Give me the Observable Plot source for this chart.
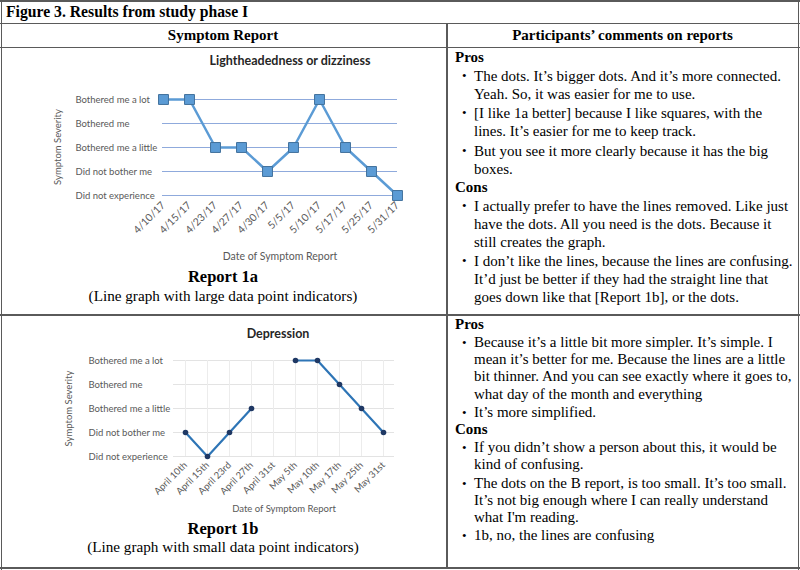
<!DOCTYPE html>
<html><head><meta charset="utf-8">
<script src="https://cdn.jsdelivr.net/npm/d3@7"></script>
<script src="https://cdn.jsdelivr.net/npm/@observablehq/plot@0.6"></script>
<style>
html,body{margin:0;padding:0;background:#fff;}
#page{position:relative;width:800px;height:570px;overflow:hidden;font-family:"Liberation Serif","Times New Roman",serif;color:#000;background:#fff;}
.ln{position:absolute;background:#5a5a5a;}
.t{position:absolute;white-space:nowrap;}
.hd{font-weight:bold;font-size:15px;line-height:18px;}
.cap{position:absolute;left:0;width:446px;text-align:center;font-size:15.2px;line-height:18px;white-space:nowrap;}
.col{position:absolute;left:455px;font-size:15px;line-height:17.1px;white-space:nowrap;}
.col.r1{line-height:18px;}
.col .h{font-weight:bold;}
.col .it{position:relative;padding-left:19px;margin-top:1.2px;}
.col .it::before{content:"•";position:absolute;left:7px;top:0;font-size:13px;}
.chart{position:absolute;left:0;}
.chart svg{overflow:visible;}
</style>
</head><body>
<div id="page">
  <div class="t hd" style="left:6px;top:3px;font-size:15.7px;">Figure 3. Results from study phase I</div>
  <div class="t hd" style="left:0;width:446px;text-align:center;top:26px;">Symptom Report</div>
  <div class="t hd" style="left:447px;width:351px;text-align:center;top:26px;">Participants’ comments on reports</div>

  <div id="c1" class="chart" style="top:47px;"></div>
  <div class="cap" style="top:268px;font-weight:bold;font-size:16.5px;">Report 1a</div>
  <div class="cap" style="top:287px;">(Line graph with large data point indicators)</div>

  <div id="c2" class="chart" style="top:315px;"></div>
  <div class="cap" style="top:520px;font-weight:bold;font-size:16.5px;">Report 1b</div>
  <div class="cap" style="top:538px;">(Line graph with small data point indicators)</div>

  <div class="col r1" style="top:48px;">
    <div class="h">Pros</div>
    <div class="it">The dots. It’s bigger dots. And it’s more connected.<br>Yeah. So, it was easier for me to use.</div>
    <div class="it">[I like 1a better] because I like squares, with the<br>lines. It’s easier for me to keep track.</div>
    <div class="it">But you see it more clearly because it has the big<br>boxes.</div>
    <div class="h">Cons</div>
    <div class="it">I actually prefer to have the lines removed. Like just<br>have the dots. All you need is the dots. Because it<br>still creates the graph.</div>
    <div class="it">I don’t like the lines, because the lines are confusing.<br>It’d just be better if they had the straight line that<br>goes down like that [Report 1b], or the dots.</div>
  </div>

  <div class="col" style="top:316px;">
    <div class="h">Pros</div>
    <div class="it">Because it’s a little bit more simpler. It’s simple. I<br>mean it’s better for me. Because the lines are a little<br>bit thinner. And you can see exactly where it goes to,<br>what day of the month and everything</div>
    <div class="it">It’s more simplified.</div>
    <div class="h">Cons</div>
    <div class="it">If you didn’t show a person about this, it would be<br>kind of confusing.</div>
    <div class="it">The dots on the B report, is too small. It’s too small.<br>It’s not big enough where I can really understand<br>what I'm reading.</div>
    <div class="it">1b, no, the lines are confusing</div>
  </div>

  <!-- table rules -->
  <div class="ln" style="left:0;top:0;width:800px;height:1.5px;"></div>
  <div class="ln" style="left:0;top:22.5px;width:800px;height:1.5px;"></div>
  <div class="ln" style="left:0;top:46.5px;width:800px;height:1.5px;"></div>
  <div class="ln" style="left:0;top:313.5px;width:800px;height:2px;"></div>
  <div class="ln" style="left:0;top:567px;width:800px;height:1.5px;"></div>
  <div class="ln" style="left:0.5px;top:0;width:1.5px;height:570px;"></div>
  <div class="ln" style="left:797.5px;top:0;width:1.5px;height:570px;"></div>
  <div class="ln" style="left:446px;top:23px;width:1.5px;height:546px;"></div>
</div>
<script>
// Severity levels, top to bottom
const levels = ["Bothered me a lot", "Bothered me", "Bothered me a little", "Did not bother me", "Did not experience"];
// Severity code: 0 = Did not experience ... 4 = Bothered me a lot
const levelsAsc = ["Did not experience", "Did not bother me", "Bothered me a little", "Bothered me", "Bothered me a lot"];

// Report 1a: Lightheadedness or dizziness
const dates1a = ["4/10/17", "4/15/17", "4/23/17", "4/27/17", "4/30/17", "5/5/17", "5/10/17", "5/17/17", "5/25/17", "5/31/17"];
const severity1a = [4, 4, 2, 2, 1, 2, 4, 2, 1, 0];

// Report 1b: Depression
const dates1b = ["April 10th", "April 15th", "April 23rd", "April 27th", "April 31st", "May 5th", "May 10th", "May 17th", "May 25th", "May 31st"];
const severity1b = [1, 0, 1, 2, null, 4, 4, 3, 2, 1];

const data1a = dates1a.map((d, i) => ({date: d, level: levelsAsc[severity1a[i]]}));
const data1b = dates1b.map((d, i) => ({date: d, level: severity1b[i] == null ? null : levelsAsc[severity1b[i]]}));

const axisStyle = {fontFamily: "Lato, 'Open Sans', sans-serif", fontSize: "9.5px", color: "#595959", background: "transparent", overflow: "visible"};

const p1 = Plot.plot({
  width: 446, height: 220,
  marginLeft: 162, marginRight: 49, marginTop: 51, marginBottom: 72,
  style: axisStyle,
  x: {type: "point", domain: dates1a, padding: 0},
  y: {type: "point", domain: levels, padding: 0},
  marks: [
    Plot.ruleY(levels, {stroke: "#8FAADC", strokeWidth: 1.2}),
    Plot.line(data1a, {x: "date", y: "level", stroke: "#5B9BD5", strokeWidth: 2.5}),
    Plot.dot(data1a, {x: "date", y: "level", symbol: "square", r: 5.6, fill: "#5B9BD5", stroke: "#41719C", strokeWidth: 1}),
    Plot.axisY({tickSize: 0, tickPadding: 0, textAnchor: "start", dx: -87, fill: "#595959",
      label: "Symptom Severity", labelAnchor: "center", labelOffset: 108, labelArrow: false}),
    Plot.axisX({tickSize: 0, tickPadding: 8, tickRotate: -45, fill: "#595959", fontSize: 10.5,
      label: "Date of Symptom Report", labelAnchor: "center", labelOffset: 64, labelArrow: false}),
    Plot.text(["Lightheadedness or dizziness"], {frameAnchor: "top", dy: -42, dx: 10, fontWeight: "bold", fontSize: 12.5, fill: "#262626"})
  ]
});
document.getElementById("c1").appendChild(p1);

const p2 = Plot.plot({
  width: 446, height: 200,
  marginLeft: 173, marginRight: 52, marginTop: 45, marginBottom: 59,
  style: axisStyle,
  x: {type: "point", domain: dates1b, padding: 0.5},
  y: {type: "point", domain: levels, padding: 0},
  marks: [
    Plot.ruleY(levels, {stroke: "#e3e3e3", strokeWidth: 1}),
    Plot.ruleX(dates1b, {stroke: "#ececec", strokeWidth: 1}),
    Plot.line(data1b, {x: "date", y: "level", stroke: "#2E75B6", strokeWidth: 2.2}),
    Plot.dot(data1b, {x: "date", y: "level", r: 2.8, fill: "#1F3864"}),
    Plot.axisY({tickSize: 0, tickPadding: 0, textAnchor: "start", dx: -85, fill: "#595959",
      label: "Symptom Severity", labelAnchor: "center", labelOffset: 108, labelArrow: false}),
    Plot.axisX({tickSize: 0, tickPadding: 7, tickRotate: -45, fill: "#595959",
      label: "Date of Symptom Report", labelAnchor: "center", labelOffset: 55, labelArrow: false}),
    Plot.text(["Depression"], {frameAnchor: "top", dy: -31, dx: -6, fontWeight: "bold", fontSize: 12.5, fill: "#262626"})
  ]
});
document.getElementById("c2").appendChild(p2);
</script>
</body></html>
